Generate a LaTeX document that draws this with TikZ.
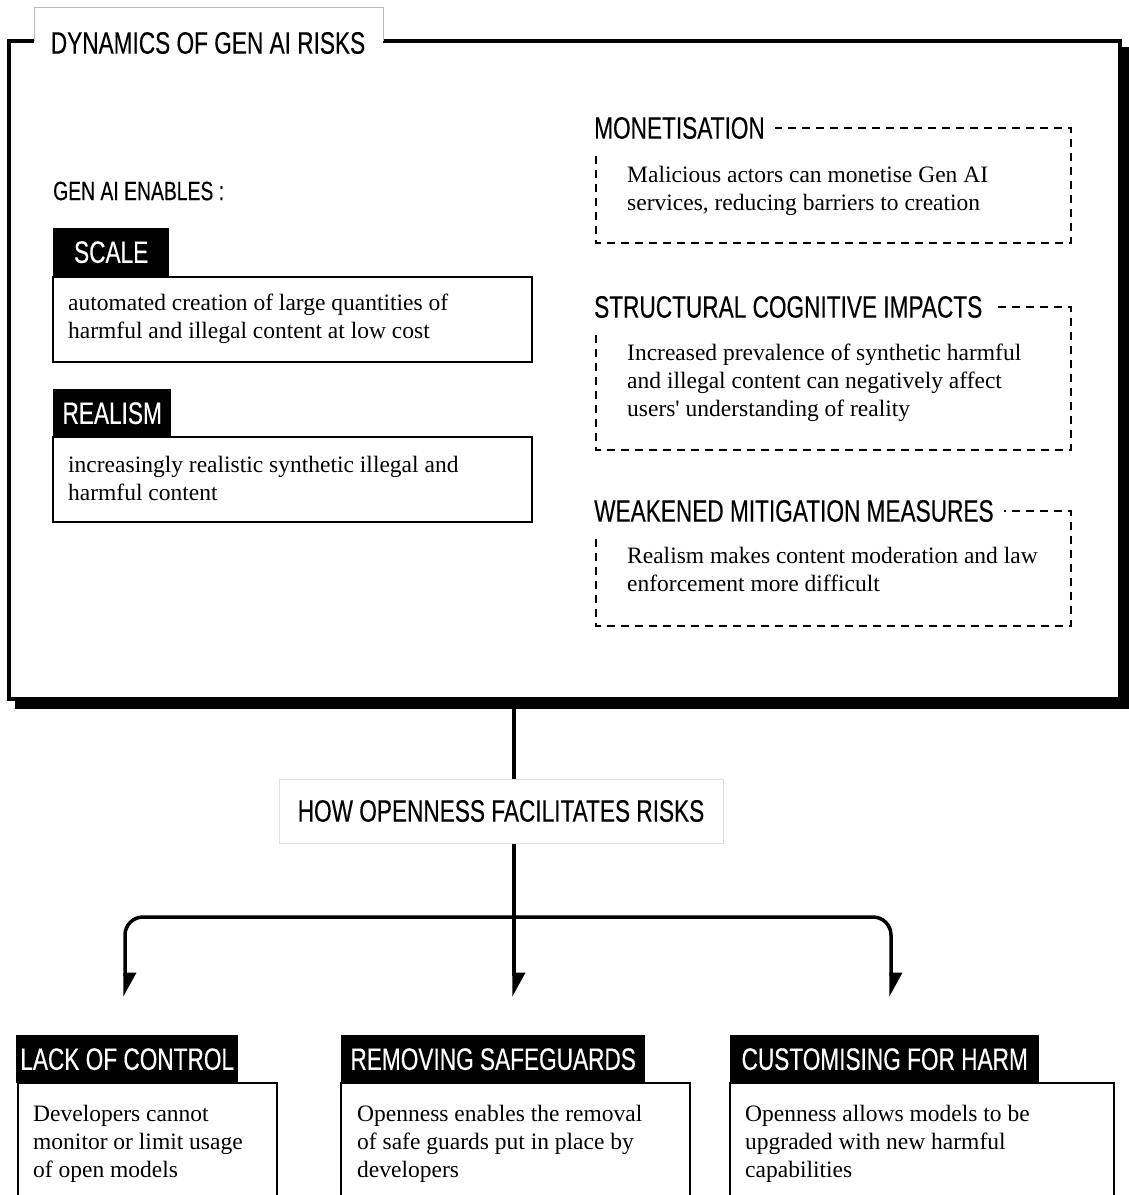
\documentclass[tikz,border=0pt]{standalone}
\usepackage{fontspec}
\setmainfont{Liberation Serif}
\newfontfamily\headfont[FakeStretch=0.73, FakeBold=0.3]{Liberation Sans}
\usetikzlibrary{arrows.meta}
\newcommand{\headsize}{\headfont\fontsize{31}{34}\selectfont}
\newcommand{\bodysize}{\fontsize{23.5}{28}\selectfont}

\tikzset{
  heading/.style={font=\headsize, inner sep=0pt, anchor=west},
  covered/.style={heading, fill=white, inner xsep=10pt, minimum height=44pt},
  tag/.style={fill=black, text=white, font=\headsize, inner sep=0pt, anchor=north west, minimum height=48pt},
  bodytext/.style={font=\bodysize, align=left, anchor=base west, inner sep=0pt},
  textbox/.style={draw=black, line width=1.5pt},
  dashbox/.style={draw=black, line width=1.8pt, dash pattern=on 8pt off 6pt},
  link/.style={line width=3.5pt},
  branch/.style={link, -{Triangle[left, length=21pt, width=22pt]}}
}

\begin{document}
\begin{tikzpicture}[x=1pt, y=-1pt]
  \useasboundingbox (0,0) rectangle (1129,1195);
  \clip (0,0) rectangle (1129,1195);

  % Main frame with shadow
  \fill (15,47) rectangle (1130,709);
  \node[draw, line width=4pt, fill=white, minimum width=1111pt, minimum height=658pt,
        inner sep=0pt, outer sep=0pt, anchor=north west] (dyn) at (9,41) {};
  \fill[white] (34,7) rectangle (383,44);
  \draw[gray!55, line width=1pt] (34,41) -- (34,7) -- (383,7) -- (383,41);
  \node[heading, anchor=center] (title) at (208,43) {DYNAMICS OF GEN AI RISKS};

  % Left column (body nodes sit on their last baseline)
  \node[heading, font=\headfont\fontsize{26.5}{30}\selectfont] (enables) at (53,191) {GEN AI ENABLES :};
  \draw[textbox] (53,277) rectangle (532,362);
  \node[tag, minimum width=116pt] (scaletag) at (53,228) {SCALE};
  \node[bodytext] (scaletext) at (68,338) {automated creation of large quantities of\\harmful and illegal content at low cost};
  \draw[textbox] (53,437) rectangle (532,522);
  \node[tag, minimum width=118pt] (realtag) at (53,389) {REALISM};
  \node[bodytext] (realtext) at (68,500) {increasingly realistic synthetic illegal and\\harmful content};

  % Right column
  \draw[dashbox] (596,128) rectangle (1071,243);
  \node[covered] (monet) at (584,128) {MONETISATION};
  \node[bodytext] (monettext) at (627,210) {Malicious actors can monetise Gen AI\\services, reducing barriers to creation};
  \draw[dashbox] (596,307) rectangle (1071,450);
  \node[covered] (struct) at (584,307) {STRUCTURAL COGNITIVE IMPACTS};
  \node[bodytext] (structtext) at (627,416) {Increased prevalence of synthetic harmful\\and illegal content can negatively affect\\users\textquotesingle\ understanding of reality};
  \draw[dashbox] (596,511) rectangle (1071,626);
  \node[covered] (weak) at (584,511) {WEAKENED MITIGATION MEASURES};
  \node[bodytext] (weaktext) at (627,591) {Realism makes content moderation and law\\enforcement more difficult};

  % Openness
  \node[draw=gray!25, line width=1pt, fill=white, minimum width=444pt, minimum height=64pt,
        inner sep=0pt, font=\headsize] (how) at (501,811) {HOW OPENNESS FACILITATES RISKS};
  \coordinate (split) at (514,917);
  \coordinate (lackend) at (125,997);
  \coordinate (removeend) at (514,997);
  \coordinate (customend) at (891,997);
  \draw[link] (dyn.south -| split) -- (how.north -| split);
  \draw[link] (how.south -| split) -- (split);
  \draw[branch, rounded corners=18pt] (split) -| (lackend);
  \draw[branch, rounded corners=18pt] (split) -| (customend);
  \draw[branch] (split) -- (removeend);

  % Bottom row
  \draw[textbox] (18,1083) rectangle (277,1220);
  \node[tag, minimum width=222pt] (lacktag) at (16,1035) {LACK OF CONTROL};
  \node[bodytext] (lacktext) at (33,1177) {Developers cannot\\monitor or limit usage\\of open models};
  \draw[textbox] (341,1083) rectangle (690,1220);
  \node[tag, minimum width=304pt] (removetag) at (341,1035) {REMOVING SAFEGUARDS};
  \node[bodytext] (removetext) at (357,1177) {Openness enables the removal\\of safe guards put in place by\\developers};
  \draw[textbox] (730,1083) rectangle (1114,1220);
  \node[tag, minimum width=309pt] (customtag) at (730,1035) {CUSTOMISING FOR HARM};
  \node[bodytext] (customtext) at (745,1177) {Openness allows models to be\\upgraded with new harmful\\capabilities};
\end{tikzpicture}
\end{document}
